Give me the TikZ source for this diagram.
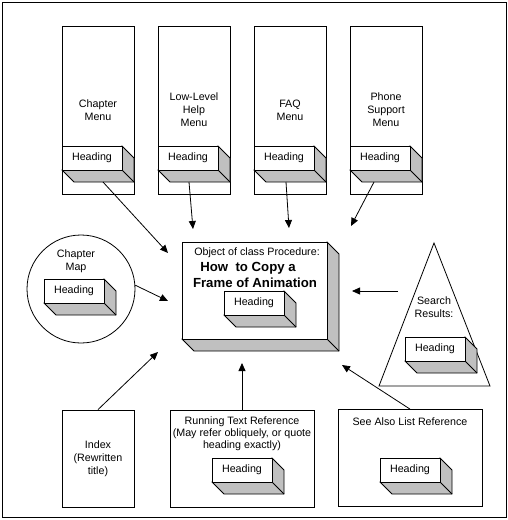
\documentclass[tikz,border=0pt]{standalone}
\usepackage{fontspec}
\setmainfont{Liberation Sans}
\usetikzlibrary{arrows.meta}
\definecolor{shade}{HTML}{C0C0C0}
% extruded "Heading" block: name, left and top of its front face
\newcommand{\headbox}[3]{%
  \filldraw[fill=shade] (#2+60,#3) -- (#2+72,#3+12) -- (#2+72,#3+36) -- (#2+12,#3+36) -- (#2,#3+24) -- cycle;
  \draw (#2+60,#3+24) -- (#2+72,#3+36);
  \node[headfront] (#1) at (#2+30,#3+12) {Heading};}
\begin{document}
\begin{tikzpicture}[x=1pt,y=-1pt,line width=0.8pt,
    font=\fontsize{10.7}{13}\selectfont,
    menubox/.style={draw,minimum width=72pt,minimum height=168pt,align=center,inner sep=0pt},
    refbox/.style={draw,minimum height=97pt,align=center,inner sep=0pt},
    headfront/.style={draw,fill=white,minimum width=60pt,minimum height=24pt,inner sep=0pt},
    titlefont/.style={font=\fontsize{13.2}{15}\selectfont\bfseries},
    arr/.style={-{Triangle[length=8pt,width=7pt]}}]
  \useasboundingbox (0,0) rectangle (508,520);
  \draw[line width=1pt] (2,2) rectangle (506,517);
  % menus along the top
  \node[menubox] (chapmenu) at (98,110) {Chapter\\Menu};
  \node[menubox] (helpmenu) at (194,110) {Low-Level\\Help\\Menu};
  \node[menubox] (faqmenu) at (290,110) {FAQ\\Menu};
  \node[menubox] (phonemenu) at (386,110) {Phone\\Support\\Menu};
  \headbox{chaphd}{62}{146}
  \headbox{helphd}{158}{146}
  \headbox{faqhd}{254}{146}
  \headbox{phonehd}{350}{146}
  % the procedure in the middle
  \filldraw[fill=shade] (327,242) -- (339,254) -- (339,351) -- (194,351) -- (182,339) -- cycle;
  \draw (327,339) -- (339,351);
  \node[draw,fill=white,minimum width=145pt,minimum height=97pt,inner sep=0pt] (proc) at (254.5,290.5) {};
  \node (proclabel) at (257,253) {Object of class Procedure:};
  \node[titlefont] (proctitle1) at (248,268) {How\ \ to Copy a};
  \node[titlefont] (proctitle2) at (255,283) {Frame of Animation};
  \headbox{prochd}{224}{291}
  % chapter map and search results
  \node[draw,circle,minimum size=108pt] (chapmap) at (81,289) {};
  \node[align=center] (maplabel) at (76,261) {Chapter\\Map};
  \headbox{maphd}{44}{279}
  \draw (434,243) coordinate (apex) -- (490,386) coordinate (baseR) -- (379,386) coordinate (baseL) -- cycle;
  \node[align=center] (searchlabel) at (434,307) {Search\\Results:};
  \headbox{searchhd}{405}{337}
  % references along the bottom
  \node[refbox,minimum width=72pt] (index) at (98,458.5) {Index\\(Rewritten\\title)};
  \node[refbox,minimum width=144pt] (running) at (242,458.5) {};
  \node[align=center,font=\fontsize{10.7}{12}\selectfont] (runlabel) at (242,434) {Running Text Reference\\(May refer obliquely, or quote\\heading exactly)};
  \headbox{runhd}{212}{458}
  \node[refbox,minimum width=144pt] (seealso) at (410,458) {};
  \node (seelabel) at (410,422) {See Also List Reference};
  \headbox{seehd}{380}{458}
  % arrow ends
  \coordinate (chapout) at (103,182);
  \coordinate (helpout) at (189,182);
  \coordinate (faqout) at (286,182);
  \coordinate (phoneout) at (374,182);
  \coordinate (searchout) at (398,291);
  \coordinate (in1) at (168,253);
  \coordinate (in2) at (193,229);
  \coordinate (in3) at (289,228);
  \coordinate (in4) at (351,226);
  \coordinate (in5) at (168,301);
  \coordinate (in6) at (352,291);
  \coordinate (in7) at (158,352);
  \coordinate (in8) at (242,363);
  \coordinate (in9) at (342,365);
  \draw[arr] (chapout) -- (in1);
  \draw[arr] (helpout) -- (in2);
  \draw[arr] (faqout) -- (in3);
  \draw[arr] (phoneout) -- (in4);
  \draw[arr] (chapmap.4) -- (in5);
  \draw[arr] (searchout) -- (in6);
  \draw[arr] (index.north) -- (in7);
  \draw[arr] (running.north) -- (in8);
  \draw[arr] (seealso.north) -- (in9);
\end{tikzpicture}
\end{document}
